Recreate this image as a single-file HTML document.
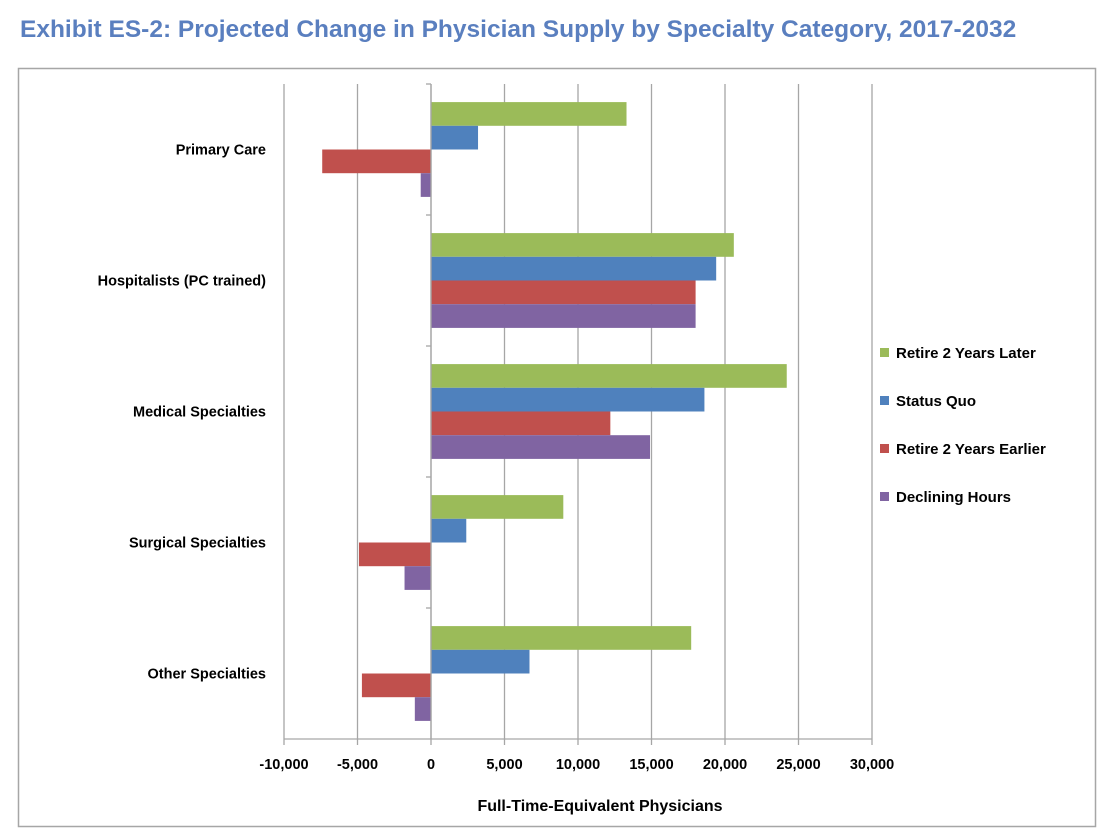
<!DOCTYPE html>
<html><head><meta charset="utf-8"><style>
body{margin:0;background:#fff;width:1109px;height:833px;overflow:hidden;font-family:"Liberation Sans",sans-serif}
</style></head><body>
<svg width="1109" height="833" xmlns="http://www.w3.org/2000/svg">
<text x="20" y="37" font-family="Liberation Sans, sans-serif" font-weight="bold" font-size="24.5" fill="#5a7fbf">Exhibit ES-2: Projected Change in Physician Supply by Specialty Category, 2017-2032</text>
<rect x="18.5" y="68.5" width="1077" height="758" fill="#fff" stroke="#a6a6a6" stroke-width="1.5"/>
<g id="grid"></g><g id="bars"></g><g id="axes"></g><g id="legend"></g>
<text x="600" y="811" text-anchor="middle" font-family="Liberation Sans, sans-serif" font-weight="bold" font-size="16" fill="#000">Full-Time-Equivalent Physicians</text>
</svg>
<script>
const categories=["Primary Care","Hospitalists (PC trained)","Medical Specialties","Surgical Specialties","Other Specialties"];
const seriesNames=["Retire 2 Years Later","Status Quo","Retire 2 Years Earlier","Declining Hours"];
const retireLater=[13300,20600,24200,9000,17700];
const statusQuo=[3200,19400,18600,2400,6700];
const retireEarlier=[-7400,18000,12200,-4900,-4700];
const decliningHours=[-700,18000,14900,-1800,-1100];
const xTicks=[-10000,-5000,0,5000,10000,15000,20000,25000,30000];
const xTickLabels=["-10,000","-5,000","0","5,000","10,000","15,000","20,000","25,000","30,000"];
const colors=["#9bbb59","#4f81bd","#c0504d","#8064a2"];
const series=[retireLater,statusQuo,retireEarlier,decliningHours];
const NS="http://www.w3.org/2000/svg";
const L=284,R=872,T=84,B=739,xmin=-10000,xmax=30000;
const x=v=>L+(v-xmin)/(xmax-xmin)*(R-L);
const band=(B-T)/categories.length;
const y=i=>T+i*band;
function mk(tag,attrs,parent){const e=document.createElementNS(NS,tag);for(const k in attrs)e.setAttribute(k,attrs[k]);document.getElementById(parent).appendChild(e);return e;}
xTicks.forEach((t,i)=>{
 const g=mk('line',{x1:x(t),x2:x(t),y1:T,y2:B+6,stroke:'#a6a6a6','stroke-width':1.3},'grid');
 
 
 const lb=mk('text',{x:x(t),y:B+30,'text-anchor':'middle','font-size':14.5,'font-weight':'bold','font-family':'Liberation Sans, sans-serif'},'axes');
 lb.textContent=xTickLabels[i];
 
 
});
const ax=mk('line',{x1:L,x2:R,y1:B,y2:B,stroke:'#a6a6a6','stroke-width':1.3},'axes');


const bh=23.7;
categories.forEach((c,i)=>{
 const tk=mk('line',{x1:x(0)-5,x2:x(0),y1:y(i),y2:y(i),stroke:'#a6a6a6','stroke-width':1.3},'axes');
 
 
 const cy=y(i)+band/2;
 const lb=mk('text',{x:266,y:cy+5,'text-anchor':'end','font-size':14.5,'font-weight':'bold','font-family':'Liberation Sans, sans-serif'},'axes');
 lb.textContent=c;
 
 
 series.forEach((s,j)=>{
  const v=s[i];const x0=Math.min(x(0),x(v));
  const r=mk('rect',{x:x0,y:cy-2*bh+j*bh,width:Math.abs(x(v)-x(0)),height:bh,fill:colors[j]},'bars');
  
  
 });
});
const za=mk('line',{x1:x(0),x2:x(0),y1:T,y2:B,stroke:'#a6a6a6','stroke-width':1.3},'axes');


seriesNames.forEach((n,j)=>{
 const ly=353+j*48;
 const sq=mk('rect',{x:880,y:ly-5,width:9,height:9,fill:colors[j]},'legend');
 
 
 const t=mk('text',{x:896,y:ly+5,'font-size':15,'font-weight':'bold','font-family':'Liberation Sans, sans-serif'},'legend');
 t.textContent=n;
 
 
});
</script>
</body></html>
